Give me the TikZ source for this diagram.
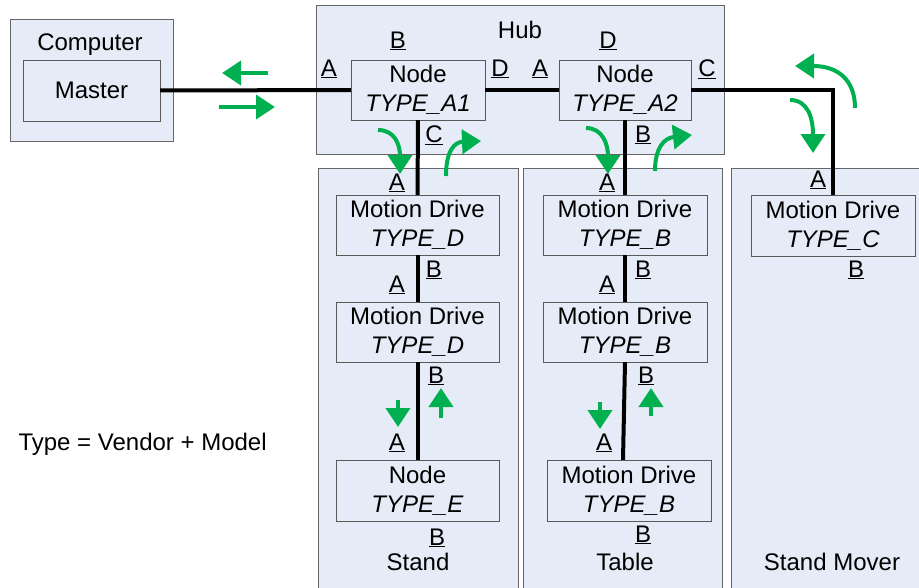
\documentclass[tikz,border=0pt]{standalone}
\usepackage{fontspec}
\setmainfont{Liberation Sans}
\usetikzlibrary{arrows.meta}
\definecolor{paneblue}{RGB}{230,236,247}
\definecolor{flowgreen}{RGB}{0,176,80}

\begin{document}
\begin{tikzpicture}[x=1pt, y=-1pt,
  font=\fontsize{24}{29}\selectfont,
  panel/.style={draw=black!60, fill=paneblue},
  box/.style={rectangle, draw=black!65, fill=paneblue, minimum width=164pt, minimum height=60pt, align=center, inner sep=0pt},
  port/.style={inner sep=0pt},
  bus/.style={line width=4pt},
  flow/.style={-{Triangle[width=24pt,length=19pt]}, line width=4pt, draw=flowgreen}
]
  \useasboundingbox (0,0) rectangle (919,587);

  % panels
  \draw[panel] (10,19) rectangle (173,141);
  \draw[panel] (316,5) rectangle (724,154);
  \draw[panel] (318,168) rectangle (518,600);
  \draw[panel] (523,168) rectangle (722,600);
  \draw[panel] (731,168) rectangle (930,600);

  \node (comp)  at (90,45)   {Computer};
  \node (hub)   at (520,30)  {Hub};
  \node (stand) at (418,562) {Stand};
  \node (table) at (625,562) {Table};
  \node (mover) at (832,562) {Stand Mover};
  \node[anchor=west] (legend) at (15,444) {Type = Vendor + Model};

  % devices
  \node[box, minimum width=137pt, minimum height=61pt] (master) at (91.5,90.5) {Master};
  \node[box, minimum width=134pt] (a1) at (418,90)  {Node\\\textit{TYPE\_A1}};
  \node[box, minimum width=132pt] (a2) at (625,90)  {Node\\\textit{TYPE\_A2}};
  \node[box, minimum width=163pt] (d1) at (417.5,225) {Motion Drive\\\textit{TYPE\_D}};
  \node[box, minimum width=163pt] (d2) at (417.5,332) {Motion Drive\\\textit{TYPE\_D}};
  \node[box, minimum width=163pt, minimum height=61pt] (e1) at (417.5,490.5) {Node\\\textit{TYPE\_E}};
  \node[box] (b1) at (625,225) {Motion Drive\\\textit{TYPE\_B}};
  \node[box] (b2) at (625,332) {Motion Drive\\\textit{TYPE\_B}};
  \node[box, minimum height=61pt] (b3) at (629,490.5) {Motion Drive\\\textit{TYPE\_B}};
  \node[box, minimum height=61pt] (c1) at (833,225.5) {Motion Drive\\\textit{TYPE\_C}};

  % ports
  \node[port] (a1A) at (329,69)  {\underline{A}};
  \node[port] (a1B) at (398,41)  {\underline{B}};
  \node[port] (a1D) at (500,69)  {\underline{D}};
  \node[port] (a1C) at (434,135) {\underline{C}};
  \node[port] (a2A) at (540,69)  {\underline{A}};
  \node[port] (a2D) at (608,41)  {\underline{D}};
  \node[port] (a2C) at (707,69)  {\underline{C}};
  \node[port] (a2B) at (643,135) {\underline{B}};
  \node[port] (d1A) at (397,183) {\underline{A}};
  \node[port] (d1B) at (434,270) {\underline{B}};
  \node[port] (d2A) at (397,285) {\underline{A}};
  \node[port] (d2B) at (436,376) {\underline{B}};
  \node[port] (e1A) at (397,443) {\underline{A}};
  \node[port] (e1B) at (437,538) {\underline{B}};
  \node[port] (b1A) at (607,183) {\underline{A}};
  \node[port] (b1B) at (643,270) {\underline{B}};
  \node[port] (b2A) at (607,285) {\underline{A}};
  \node[port] (b2B) at (646,376) {\underline{B}};
  \node[port] (b3A) at (604,443) {\underline{A}};
  \node[port] (b3B) at (643,535) {\underline{B}};
  \node[port] (c1A) at (818,180) {\underline{A}};
  \node[port] (c1B) at (856,270) {\underline{B}};

  % bus lines
  \draw[bus] (master) -- (a1);
  \draw[bus] (a1) -- (a2);
  \draw[bus] (a2.east) -| (c1.north);
  \draw[bus] (a1.south) -- (d1.north);
  \draw[bus] (d1) -- (d2);
  \draw[bus] (d2) -- (e1);
  \draw[bus] (a2.south) -- (b1.north);
  \draw[bus] (b1) -- (b2);
  \draw[bus] (b2.south) -- ([xshift=-6pt]b3.north);

  % data flow
  \draw[flow] (268,73) -- (222,73);
  \draw[flow] (219,107) -- (275,107);
  \draw[flow] (378,130) .. controls (395,130) and (400,145) .. (400,174);
  \draw[flow] (446,176) .. controls (446,150) and (455,142) .. (481,141);
  \draw[flow] (586,128) .. controls (603,128) and (608,145) .. (608,174);
  \draw[flow] (655,171) .. controls (655,148) and (664,138) .. (692,135);
  \draw[flow] (790,100) .. controls (808,100) and (813,118) .. (813,153);
  \draw[flow] (855,108) .. controls (855,80) and (838,66) .. (795,66);
  \draw[flow] (398,400) -- (398,427);
  \draw[flow] (441,418) -- (441,388);
  \draw[flow] (600,402) -- (600,429);
  \draw[flow] (651,416) -- (651,388);
\end{tikzpicture}
\end{document}
